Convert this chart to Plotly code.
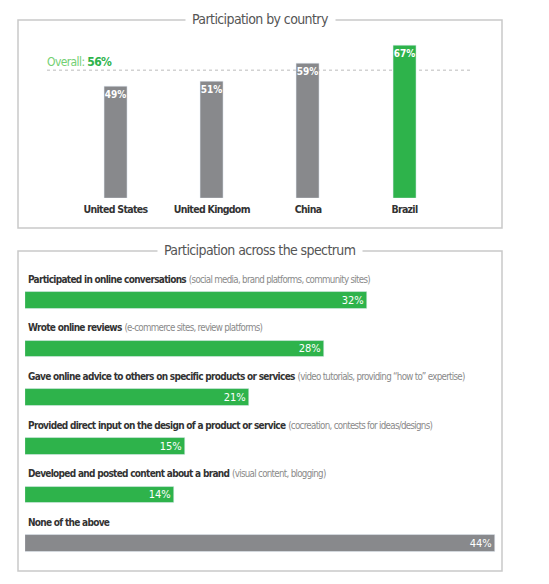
import plotly.graph_objects as go

# Datos: participación por país
countries = ["United States", "United Kingdom", "China", "Brazil"]
country_pct = [49, 51, 59, 67]
overall_pct = 56

# Datos: participación en el espectro
activities = [
    "Participated in online conversations",
    "Wrote online reviews",
    "Gave online advice to others on specific products or services",
    "Provided direct input on the design of a product or service",
    "Developed and posted content about a brand",
    "None of the above",
]
activity_notes = [
    "(social media, brand platforms, community sites)",
    "(e-commerce sites, review platforms)",
    "(video tutorials, providing \u201chow to\u201d expertise)",
    "(cocreation, contests for ideas/designs)",
    "(visual content, blogging)",
    "",
]
activity_pct = [32, 28, 21, 15, 14, 44]

GREEN = "#2eb34b"
GRAY = "#88898c"
NARROW = "DejaVu Sans Condensed, Roboto, sans-serif"

W, H = 549, 584
OFF = 8  # margen del body en la página


def px(x):
    return (x - OFF) / W


def py(y):
    return 1 - (y - OFF) / H


def tight(s, sp=-0.3):
    # texto condensado con espaciado negativo
    return f"<span style='letter-spacing:{sp}px'>{s}</span>"


fig = go.Figure()

# Barras verticales por país
fig.add_trace(go.Bar(
    x=countries, y=country_pct,
    marker_color=[GREEN if c == "Brazil" else GRAY for c in countries],
    width=0.24,
    text=[f"{v}%" for v in country_pct],
    textposition="inside", insidetextanchor="end", textangle=0,
    constraintext="none",
    textfont=dict(family=NARROW, size=10, color="white", weight="bold"),
    xaxis="x", yaxis="y", hoverinfo="skip",
))

# Barras horizontales del espectro
fig.add_trace(go.Bar(
    y=activities, x=activity_pct, orientation="h",
    marker_color=[GRAY if a == "None of the above" else GREEN for a in activities],
    width=0.34,
    text=[f"{v}%" for v in activity_pct],
    textposition="inside", insidetextanchor="end", textangle=0,
    constraintext="none",
    textfont=dict(family=NARROW, size=11, color="white"),
    xaxis="x2", yaxis="y2", hoverinfo="skip",
))

annotations = []
for a, note in zip(activities, activity_notes):
    txt = f"<b>{tight(a, -0.7)}</b>"
    if note:
        txt += " <span style='color:#8a8a8a;font-size:9.7px;letter-spacing:-0.7px'>" + note + "</span>"
    annotations.append(dict(
        x=0, y=a, xref="x2", yref="y2", text=txt, showarrow=False,
        xanchor="left", yanchor="middle", yshift=21, xshift=1,
        font=dict(family=NARROW, size=10, color="#333333"),
    ))

annotations.append(dict(
    x=px(47), y=overall_pct, xref="paper", yref="y",
    text=tight("<span style='color:#72cf72'>Overall:</span> <b>" + f"{overall_pct}%</b>", -0.6),
    showarrow=False, xanchor="left", yanchor="bottom", yshift=-1, xshift=-2,
    font=dict(family=NARROW, size=12, color=GREEN),
))

# Títulos de las cajas
for title, ty in [("Participation by country", 19), ("Participation across the spectrum", 250)]:
    annotations.append(dict(
        x=px(260), y=py(ty), xref="paper", yref="paper", text=tight(title, -0.6),
        showarrow=False, xanchor="center", yanchor="middle",
        bgcolor="white", borderpad=6,
        font=dict(family=NARROW, size=14, color="#555555"),
    ))

shapes = [
    dict(type="rect", xref="paper", yref="paper",
         x0=px(18), x1=px(502), y0=py(228), y1=py(20),
         line=dict(color="#c9c9c9", width=1.5), layer="below"),
    dict(type="rect", xref="paper", yref="paper",
         x0=px(18), x1=px(502), y0=py(571), y1=py(251),
         line=dict(color="#c9c9c9", width=1.5), layer="below"),
    dict(type="line", xref="paper", yref="y",
         x0=px(47), x1=px(473), y0=overall_pct, y1=overall_pct,
         line=dict(color="#d2d2d2", width=1.5, dash="dot"), layer="below"),
]

fig.update_layout(
    width=W, height=H,
    margin=dict(l=0, r=0, t=0, b=0),
    paper_bgcolor="white", plot_bgcolor="white",
    showlegend=False,
    bargap=0,
    xaxis=dict(domain=[px(67.3), px(452.6)], range=[-0.5, 3.5],
               showgrid=False, zeroline=False, showline=False, ticks="",
               tickvals=countries,
               ticktext=[f"<b>{tight(c, -0.7)}</b>" for c in countries],
               ticklabelstandoff=3,
               tickfont=dict(family=NARROW, size=10.5, color="#333333"),
               fixedrange=True),
    yaxis=dict(domain=[py(198), py(38.4)], range=[0, 70],
               visible=False, fixedrange=True),
    xaxis2=dict(domain=[px(25), px(500)], range=[0, 44.5],
                visible=False, fixedrange=True, anchor="y2"),
    yaxis2=dict(domain=[py(572), py(275.8)], autorange="reversed",
                visible=False, fixedrange=True, anchor="x2"),
    annotations=annotations,
    shapes=shapes,
)

fig.write_html("out.html")
